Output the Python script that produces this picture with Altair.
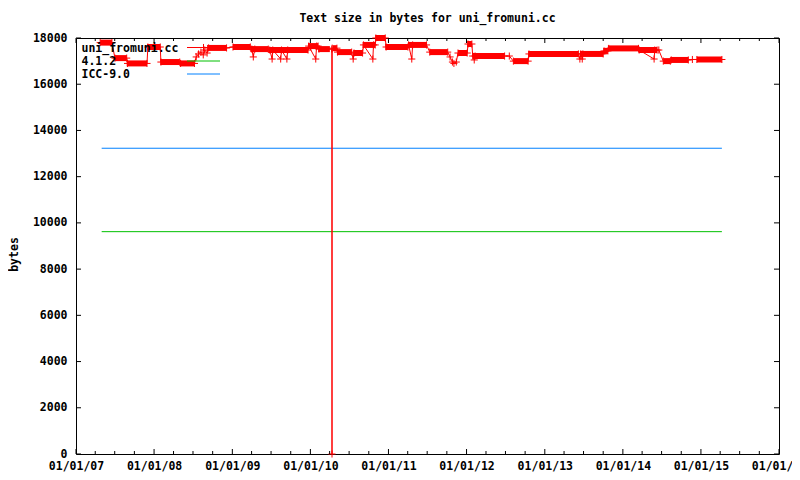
import altair as alt
import pandas as pd

# ---- data (decimal years, bytes) ----
red_year = [2007.31, 2007.46, 2007.50, 2007.65, 2007.66, 2007.91, 2007.92, 2008.08,
            2008.09, 2008.33, 2008.34, 2008.52, 2008.54, 2008.57, 2008.60, 2008.63,
            2008.65, 2008.68, 2008.70, 2008.93, 2009.01, 2009.23, 2009.25, 2009.27,
            2009.29, 2009.46, 2009.48, 2009.51, 2009.52, 2009.62, 2009.63, 2009.70,
            2009.71, 2009.97, 2009.98, 2010.07, 2010.08, 2010.10, 2010.11, 2010.274,
            2010.277, 2010.28, 2010.34, 2010.35, 2010.53, 2010.55, 2010.56, 2010.67,
            2010.68, 2010.80, 2010.81, 2010.83, 2010.84, 2010.96, 2010.97, 2011.25,
            2011.26, 2011.30, 2011.31, 2011.49, 2011.53, 2011.76, 2011.79, 2011.82,
            2011.84, 2011.87, 2011.89, 2012.01, 2012.02, 2012.07, 2012.08, 2012.10,
            2012.11, 2012.49, 2012.55, 2012.60, 2012.79, 2012.80, 2013.43, 2013.45,
            2013.46, 2013.48, 2013.49, 2013.75, 2013.76, 2013.81, 2013.82, 2014.20,
            2014.21, 2014.40, 2014.41, 2014.44, 2014.46, 2014.52, 2014.61, 2014.62,
            2014.84, 2014.89, 2014.95, 2015.27]
red_val = [17800, 17800, 17130, 17130, 16900, 16900, 17610, 17610,
           16960, 16960, 16900, 16900, 17180, 17310, 17390, 17270,
           17480, 17350, 17570, 17570, 17610, 17610, 17520, 17180,
           17520, 17520, 17480, 17090, 17480, 17090, 17480, 17090,
           17480, 17480, 17650, 17090, 17650, 17650, 17520, 17520,
           0, 17560, 17560, 17390, 17390, 17090, 17350, 17350,
           17700, 17090, 17700, 17700, 18000, 18000, 17610, 17610,
           17700, 17090, 17700, 17700, 17390, 17390, 17180, 16960,
           16900, 16960, 17350, 17350, 17740, 17740, 17220, 17050,
           17220, 17220, 17220, 17000, 17000, 17310, 17310, 17090,
           17310, 17090, 17310, 17310, 17440, 17440, 17550, 17550,
           17480, 17090, 17480, 17480, 17480, 17000, 17000, 17050,
           17050, 17070, 17070, 17070]

# dense stretches of commits (solid red bands)
run_start = [2007.31, 2007.50, 2007.65, 2007.91, 2008.08, 2008.33, 2008.68, 2009.01,
             2009.23, 2009.46, 2009.97, 2010.10, 2010.29, 2010.34, 2010.55, 2010.67,
             2010.83, 2010.96, 2011.25, 2011.53, 2011.89, 2012.01, 2012.08, 2012.60,
             2012.79, 2013.45, 2013.75, 2013.81, 2014.20, 2014.52, 2014.61, 2014.95]
run_end = [2007.46, 2007.65, 2007.91, 2008.08, 2008.33, 2008.52, 2008.93, 2009.23,
           2009.46, 2009.97, 2010.10, 2010.25, 2010.34, 2010.53, 2010.67, 2010.83,
           2010.96, 2011.25, 2011.49, 2011.76, 2012.01, 2012.07, 2012.49, 2012.79,
           2013.43, 2013.75, 2013.81, 2014.20, 2014.44, 2014.61, 2014.84, 2015.27]
run_val = [17800, 17130, 16900, 17610, 16960, 16900, 17570, 17610,
           17520, 17480, 17650, 17520, 17560, 17390, 17350, 17700,
           18000, 17610, 17700, 17390, 17350, 17740, 17220, 17000,
           17310, 17310, 17440, 17550, 17480, 17000, 17050, 17070]

gcc_year = [2007.33, 2015.27]
gcc_val = [9620, 9620]
icc_year = [2007.33, 2015.27]
icc_val = [13230, 13230]

series_names = ["uni_fromuni.cc", "4.1.2", "ICC-9.0"]
series_colors = ["#ff0000", "#00c000", "#0080ff"]
x_tick_years = list(range(2007, 2017))
y_ticks = list(range(0, 18001, 2000))

TITLE = "Text size in bytes for uni_fromuni.cc"
FONT = "DejaVu Sans Mono"
W, H = 703, 416


def to_date(y):
    yi = int(y)
    return (pd.Timestamp(yi, 1, 1) + pd.Timedelta(days=(y - yi) * 365.25)).strftime("%Y-%m-%d")


red_df = pd.DataFrame({"date": [to_date(v) for v in red_year], "bytes": red_val})
run_df = pd.DataFrame({"date": [to_date(v) for v in run_start],
                       "end": [to_date(v) for v in run_end], "bytes": run_val})
gcc_df = pd.DataFrame({"date": [to_date(v) for v in gcc_year], "bytes": gcc_val})
icc_df = pd.DataFrame({"date": [to_date(v) for v in icc_year], "bytes": icc_val})

major_df = pd.DataFrame({"date": [f"{y}-01-01" for y in x_tick_years]})
minor_df = pd.DataFrame({"date": [f"{y}-{m:02d}-01" for y in x_tick_years[:-1] for m in (4, 7, 10)]})
ytick_df = pd.DataFrame({"bytes": y_ticks})

xscale = alt.Scale(type="utc",
                   domain=[alt.DateTime(year=2007, month=1, date=1, utc=True),
                           alt.DateTime(year=2016, month=1, date=1, utc=True)])
yscale = alt.Scale(domain=[0, 18000], nice=False, zero=True)

xaxis = alt.Axis(values=[alt.DateTime(year=y, month=1, date=1, utc=True) for y in x_tick_years],
                 labelExpr="utcFormat(datum.value, '%m/%d/%y')", title=None,
                 ticks=False, tickSize=0, domain=False, grid=False, labelPadding=6,
                 labelFont=FONT, labelFontSize=11.5, labelFontWeight="bold",
                 labelColor="#000000", labelOverlap=False, labelFlush=False)
yaxis = alt.Axis(values=y_ticks, format="d", title="bytes", ticks=False, tickSize=0,
                 domain=False, grid=False, labelPadding=9, labelFont=FONT, labelFontSize=11.5,
                 labelFontWeight="bold", labelColor="#000000",
                 titleFont=FONT, titleFontSize=11.5, titleFontWeight="bold",
                 titleColor="#000000", titleX=-62, titleY=216, titleAngle=-90,
                 titleAlign="center", titleBaseline="middle")

X = alt.X("date:T", scale=xscale, axis=xaxis)
Y = alt.Y("bytes:Q", scale=yscale, axis=yaxis)

cross = "M-1,0H1M0,-1V1"

gcc_line = alt.Chart(gcc_df).mark_line(color=series_colors[1], strokeWidth=1).encode(x=X, y=Y)
icc_line = alt.Chart(icc_df).mark_line(color=series_colors[2], strokeWidth=1).encode(x=X, y=Y)
red_line = alt.Chart(red_df).mark_line(color=series_colors[0], strokeWidth=1).encode(x=X, y=Y)
red_pts = alt.Chart(red_df).mark_point(shape=cross, size=50, filled=False, strokeWidth=1,
                                       color=series_colors[0], opacity=1).encode(x=X, y=Y)
red_runs = alt.Chart(run_df).mark_rule(color=series_colors[0], strokeWidth=6).encode(
    x=X, x2="end:T", y=Y)

# inward ticks on all four sides
maj_b = alt.Chart(major_df).mark_rule(color="black").encode(x=X, y=alt.value(H), y2=alt.value(H - 5))
maj_t = alt.Chart(major_df).mark_rule(color="black").encode(x=X, y=alt.value(0), y2=alt.value(5))
min_b = alt.Chart(minor_df).mark_rule(color="black").encode(x=X, y=alt.value(H), y2=alt.value(H - 3))
min_t = alt.Chart(minor_df).mark_rule(color="black").encode(x=X, y=alt.value(0), y2=alt.value(3))
yt_l = alt.Chart(ytick_df).mark_rule(color="black").encode(y=Y, x=alt.value(0), x2=alt.value(5))
yt_r = alt.Chart(ytick_df).mark_rule(color="black").encode(y=Y, x=alt.value(W), x2=alt.value(W - 5))

# key (top left, text then sample)
key_layers = []
key_rows = [10.5, 24, 37]
for i, name in enumerate(series_names):
    kdf = pd.DataFrame({"name": [name]})
    key_layers.append(alt.Chart(kdf).mark_text(align="left", baseline="middle", font=FONT,
                                               fontSize=11.5, fontWeight="bold", color="black")
                      .encode(text="name:N", x=alt.value(5.5), y=alt.value(key_rows[i])))
    key_layers.append(alt.Chart(kdf).mark_rule(color=series_colors[i], strokeWidth=1)
                      .encode(x=alt.value(111), x2=alt.value(144), y=alt.value(key_rows[i] - 1)))
key_layers.append(alt.Chart(pd.DataFrame({"name": [series_names[0]]}))
                  .mark_point(shape=cross, size=50, filled=False, strokeWidth=1,
                              color=series_colors[0], opacity=1)
                  .encode(x=alt.value(127.5), y=alt.value(key_rows[0] - 1)))

chart = alt.layer(
    gcc_line, icc_line, red_line, red_runs, red_pts,
    maj_b, maj_t, min_b, min_t, yt_l, yt_r, *key_layers
).properties(
    width=W, height=H,
    title=alt.TitleParams(TITLE, font=FONT, fontSize=11.5, fontWeight="bold",
                          color="black", anchor="middle", offset=8),
    autosize=alt.AutoSizeParams(type="none"),
    padding={"left": 68, "top": 30, "right": 13, "bottom": 18},
    background="white",
).configure_view(stroke="black", strokeWidth=1)

chart.save("out.html", embed_options={"renderer": "svg", "actions": False})
